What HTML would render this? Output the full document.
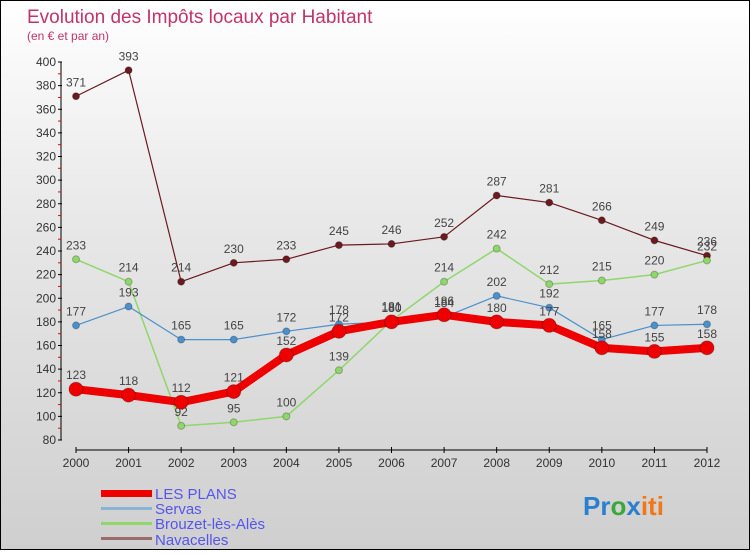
<!DOCTYPE html>
<html><head><meta charset="utf-8"><style>
html,body{margin:0;padding:0}
body{width:750px;height:550px;overflow:hidden;font-family:"Liberation Sans",sans-serif}
#wrap{position:relative;width:748px;height:548px;border:1px solid #000;background:linear-gradient(#fff,#e8e8e8 40%,#cfcfcf)}
svg text{font-family:"Liberation Sans",sans-serif}
</style></head><body>
<div id="wrap">
<svg id="chart" width="748" height="548">
<text x="26" y="22" font-size="19" fill="#c2336a">Evolution des Impôts locaux par Habitant</text>
<text x="26" y="39" font-size="12" fill="#c2336a">(en € et par an)</text>
<g id="axes"></g><g id="series"></g>
<g>
<rect x="100" y="489" width="51" height="7" fill="#e00"/>
<text x="154" y="498" font-size="15" fill="#5555ee">LES PLANS</text>
<rect x="100" y="506" width="51" height="3" fill="#89b4d6"/>
<text x="154" y="513" font-size="15" fill="#5555ee">Servas</text>
<rect x="100" y="521" width="51" height="3" fill="#8fd76a"/>
<text x="154" y="528" font-size="15" fill="#5555ee">Brouzet-lès-Alès</text>
<rect x="100" y="536" width="51" height="3" fill="#9b6b6b"/>
<text x="154" y="544" font-size="15" fill="#5555ee">Navacelles</text>
</g>
<text x="582" y="514" font-size="26" font-weight="bold"><tspan fill="#2a7fd0">Pr</tspan><tspan fill="#3aa83a">o</tspan><tspan fill="#2a7fd0">x</tspan><tspan fill="#f07818">iti</tspan></text>
</svg></div>
<script>
const years=[2000,2001,2002,2003,2004,2005,2006,2007,2008,2009,2010,2011,2012];
const yTicks=[80,100,120,140,160,180,200,220,240,260,280,300,320,340,360,380,400];
const lesPlans=[123,118,112,121,152,172,180,186,180,177,158,155,158];
const servas=[177,193,165,165,172,178,180,184,202,192,165,177,178];
const brouzet=[233,214,92,95,100,139,181,214,242,212,215,220,232];
const navacelles=[371,393,214,230,233,245,246,252,287,281,266,249,236];
const NS="http://www.w3.org/2000/svg";
const X=i=>75+i*(631/(years.length-1));
const Y=v=>439-(v-80)*(378/320);
function mk(t,a,p){const e=document.createElementNS(NS,t);for(const k in a)e.setAttribute(k,a[k]);p.appendChild(e);return e;}
const ax=document.getElementById('axes');
mk('line',{x1:60,y1:Y(400),x2:60,y2:Y(80),stroke:'#000'},ax);
mk('line',{x1:75,y1:449,x2:706,y2:449,stroke:'#000'},ax);
yTicks.forEach((t,i)=>{
 mk('line',{x1:57,y1:Y(t),x2:61,y2:Y(t),stroke:'#000'},ax);
 if(i<yTicks.length-1)mk('line',{x1:57,y1:Y(t+10),x2:60,y2:Y(t+10),stroke:'#e00'},ax);
 const tx=mk('text',{x:55,y:Y(t)+4,'font-size':12,fill:'#333','text-anchor':'end'},ax);
 tx.textContent=t;
 
 
});
years.forEach((y,i)=>{
 mk('line',{x1:X(i),y1:446,x2:X(i),y2:452,stroke:'#000'},ax);
 const tx=mk('text',{x:X(i),y:466,'font-size':12,fill:'#333','text-anchor':'middle'},ax);
 tx.textContent=y;
 
 
});
const sg=document.getElementById('series');
function series(data,color,w,r,name){
 const g=mk('g',{},sg);
 
 
 mk('polyline',{points:data.map((v,i)=>X(i)+','+Y(v)).join(' '),fill:'none',stroke:color,'stroke-width':w,'stroke-linejoin':'round'},g);
 data.forEach((v,i)=>{
  const c=mk('circle',{cx:X(i),cy:Y(v),r:r,fill:color,stroke:'rgba(0,0,0,0.25)','stroke-width':1},g);
  
  
  const t=mk('text',{x:X(i),y:Y(v)-10,'font-size':12,fill:'#444','text-anchor':'middle'},g);
  t.textContent=v;
  
  
 });
}
series(navacelles,'#6b1a1f',1.2,3.5,'navacelles');
series(brouzet,'#8fd76a',1.5,3.5,'brouzet');
series(servas,'#4a90cc',1.2,3.5,'servas');
series(lesPlans,'#ee0000',8,7,'les-plans');
</script>
</body></html>
